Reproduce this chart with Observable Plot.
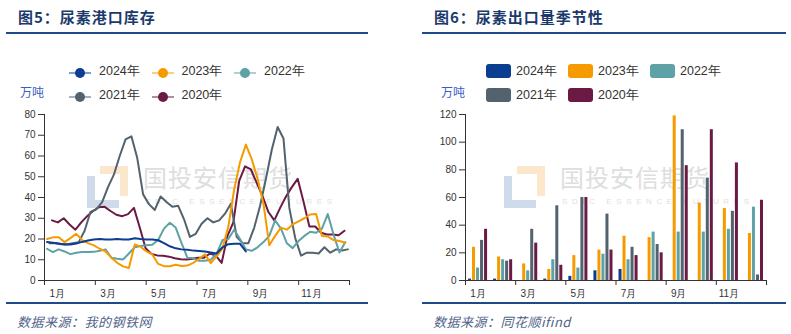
<!DOCTYPE html>
<html><head><meta charset="utf-8">
<script src="https://cdn.jsdelivr.net/npm/d3@7"></script>
<script src="https://cdn.jsdelivr.net/npm/@observablehq/plot@0.6"></script>
<style>
body{margin:0;width:791px;height:334px;position:relative;background:#fff;overflow:hidden;font-family:"Liberation Sans",Arial,sans-serif;}
.abs{position:absolute;}
.title{font-family:"Noto Sans CJK SC";font-weight:700;font-size:15px;color:#1b3a6b;letter-spacing:1px;top:6px;line-height:22px;white-space:nowrap;}
.rule{height:2px;background:#1f4a87;}
.src{font-family:"Noto Sans CJK SC";font-style:italic;font-size:13px;color:#52648a;top:312px;line-height:20px;white-space:nowrap;letter-spacing:0.5px;}
.unit{font-family:"Noto Sans CJK SC";font-size:12px;color:#3a5cc4;line-height:16px;}
.leg{font-size:12.5px;color:#333;line-height:16px;white-space:nowrap;}
.wm{font-family:"Noto Sans CJK SC";color:#dedede;font-size:24px;letter-spacing:1px;line-height:28px;white-space:nowrap;}
.wm2{color:#e0e0e0;font-size:8px;letter-spacing:4.6px;white-space:nowrap;line-height:10px;}
.plot{position:absolute;}
</style>
</head><body>
<script>
// ---------- data ----------
const years = ["2024年","2023年","2022年","2021年","2020年"];
const colors = ["#0b3d91","#f59b00","#5ea1a7","#52626e","#6a1a43"];
const monthLabels = ["1月","3月","5月","7月","9月","11月"];
const monthLabelIndex = [0,2,4,6,8,10];
const monthEdges = [0,2,4,6,8,10,12];
const yTicksLeft = [0,10,20,30,40,50,60,70,80];
const yTicksRight = [0,20,40,60,80,100,120];

// port inventory (weekly, 万吨); first observation day-of-year per year
const startDay = [3,3,3,6,9];
const inv2024 = [18.5,18.2,17.8,17.3,17.3,17.8,18.6,19.3,19.8,20,19.8,19.8,20,19.8,19.8,20.4,20,19.8,19.8,19.4,18,16.5,15.5,15,14.8,14.4,14.2,14,13.5,13,16,17.5,17.7,17.7,14];
const inv2023 = [20,20.8,20.8,18.5,20.4,22.5,19.5,18,16.9,15.3,14,11,8.5,6.8,6,17.4,16.3,14,12.6,8,6.9,6.9,7.6,7,7.2,8.5,10.5,12.6,8.4,11.6,15.5,26,44,57,65.5,58.5,49,37,17,21.5,25.5,24.5,27,28.5,30,31.8,32,21.5,21.2,19.5,19,18.2];
const inv2022 = [15.3,13.7,15,14,12.7,13.4,13.7,13.7,13.8,14.3,15,11,10.5,10.1,13,16,16.6,17,17.2,19.5,25,27.8,25.5,18,11,10.8,9.5,9.5,10,13,19.5,20,24.5,20,15,14.3,16,18.5,21.5,29,25,18,15.6,19,21.5,23.5,23,25,32,22,13.5,18.5];
const inv2021 = [18,18,17.5,17.5,18,18.5,24,33,34.3,37.8,45,51,60,68,69.5,59,41.5,36.8,34,40.5,37.8,35.5,36,29.5,21,22.5,27.4,30,28,29,32.2,37,21,18,18,25.5,36,49,63,74,68.4,35,20.5,12,13.4,13.4,13,16,13.4,15,14.5,15];
const inv2020 = [29,28,30,27,24.5,28,31,33.5,35.3,35.5,33.5,31.7,31,32,35,25.5,15.5,12.8,12.1,11.9,11.5,10.7,10.2,10.1,10.5,11,11,13,12,8.5,21.5,28,48,55,53.5,47,40.5,33,29,35,40.5,45,49,38,26,26,23,22.2,22.2,21.8,24];
const inventory = [inv2024, inv2023, inv2022, inv2021, inv2020];

// monthly urea exports (万吨)
const exp2024 = [1,1,0,1,3,7,8,null,null,null,null,null];
const exp2023 = [24,17,12,8,18,22,32,31,119,56,52,34];
const exp2022 = [9,15,7,15,9,19,15,35,35,35,37,53];
const exp2021 = [29,14,37,54,60,48,24,26,109,74,50,4];
const exp2020 = [37,15,27,11,60,22,18,20,83,109,85,58];
const exports_ = [exp2024, exp2023, exp2022, exp2021, exp2020];

// ---------- static layout ----------
function el(cls, css, html){const d=document.createElement("div");d.className="abs "+cls;Object.assign(d.style,css);if(html!=null)d.innerHTML=html;document.body.appendChild(d);return d;}

// watermarks (behind)
function watermark(x){
  el("", {left:(x)+"px",top:"176px",width:"24px",height:"24px",borderLeft:"8px solid #cfdaea",borderBottom:"8px solid #cfdaea"});
  el("", {left:(x+13)+"px",top:"166px",width:"20px",height:"22px",borderTop:"8px solid #fde7cc",borderRight:"8px solid #fde7cc"});
  el("wm", {left:(x+56)+"px",top:"163px"}, "国投安信期货");
  el("wm2", {left:(x+58)+"px",top:"197px"}, "SDIC ESSENCE FUTURES");
}
watermark(87);
watermark(504);

el("title",{left:"18px"},"图5：尿素港口库存");
el("title",{left:"434px"},"图6：尿素出口量季节性");
el("rule",{left:"6px",top:"32px",width:"362px"});
el("rule",{left:"422px",top:"32px",width:"364px"});
el("rule",{left:"6px",top:"302px",width:"362px"});
el("rule",{left:"422px",top:"302px",width:"364px"});
el("src",{left:"17px"},"数据来源：我的钢铁网");
el("src",{left:"433px"},"数据来源：同花顺ifind");
el("unit",{left:"20px",top:"84px"},"万吨");
el("unit",{left:"441px",top:"84px"},"万吨");

// legends
years.forEach((y,k)=>{
  const r = k<3?0:1, c = k<3?k:k-3;
  const cy = r===0?71:95;
  // line legend
  const lx = 69 + c*82.5;
  el("", {left:lx+"px",top:(cy-6)+"px",width:"22px",height:"12px"},
    `<svg width="22" height="12"><line x1="0" y1="6" x2="22" y2="6" stroke="${colors[k]}" stroke-opacity="0.5" stroke-width="2"/><circle cx="11" cy="6" r="5" fill="${colors[k]}"/></svg>`);
  el("leg", {left:(lx+30)+"px",top:(cy-8)+"px"}, y);
  // bar legend
  const bx = 486 + c*82;
  el("", {left:bx+"px",top:(cy-7)+"px",width:"25px",height:"14px",background:colors[k],borderRadius:"3px"});
  el("leg", {left:(bx+30)+"px",top:(cy-8)+"px"}, y);
});

// ---------- charts ----------
const color = {domain: years, range: colors};
const baseStyle = {background:"transparent", fontSize:"10px", fontFamily:"Liberation Sans, Arial, sans-serif", color:"#333", overflow:"visible"};

const lineData = [];
inventory.forEach((vals,k)=>vals.forEach((v,i)=>lineData.push({year:years[k], x:(startDay[k]+7*i)*12/365, v})));
const drawOrder = [4,3,2,1,0];
const lineOrdered = drawOrder.flatMap(k=>lineData.filter(d=>d.year===years[k]));

const labelPos = monthLabelIndex.map(m=>m+0.5);
const fmtLabel = d => monthLabels[monthLabelIndex.indexOf(Math.round(d-0.5))];

const left = Plot.plot({
  width:370, height:200, marginLeft:44, marginRight:21, marginTop:14, marginBottom:20,
  style: baseStyle,
  x:{domain:[0,12], label:null},
  y:{domain:[0,80], label:null},
  color,
  marks:[
    Plot.axisY(yTicksLeft,{tickSize:6, tickPadding:3, label:null}),
    Plot.axisX(monthEdges,{tickSize:5, tickFormat:()=>"", label:null}),
    Plot.axisX(labelPos,{tickSize:0, tickPadding:9, tickFormat:fmtLabel, label:null}),
    Plot.ruleX([0],{stroke:"#333"}),
    Plot.ruleY([0],{stroke:"#333"}),
    Plot.line(lineOrdered,{x:"x", y:"v", z:"year", stroke:"year", strokeWidth:2})
  ]
});
left.classList.add("plot");
Object.assign(left.style,{left:"0px", top:"100px"});
document.body.appendChild(left);

const barData = [];
exports_.forEach((vals,k)=>vals.forEach((v,m)=>{ if(v!=null) barData.push({year:years[k], x1:m+0.12+0.16*k, x2:m+0.12+0.16*k+0.12, v}); }));

const right = Plot.plot({
  width:391, height:200, marginLeft:65, marginRight:25, marginTop:14, marginBottom:20,
  style: baseStyle,
  x:{domain:[0,12], label:null},
  y:{domain:[0,120], label:null},
  color,
  marks:[
    Plot.axisY(yTicksRight,{tickSize:6, tickPadding:3, label:null}),
    Plot.axisX(monthEdges,{tickSize:5, tickFormat:()=>"", label:null}),
    Plot.axisX(labelPos,{tickSize:0, tickPadding:9, tickFormat:fmtLabel, label:null}),
    Plot.rectY(barData,{x1:"x1", x2:"x2", y:"v", fill:"year"}),
    Plot.ruleX([0],{stroke:"#333"}),
    Plot.ruleY([0],{stroke:"#333"})
  ]
});
right.classList.add("plot");
Object.assign(right.style,{left:"400px", top:"100px"});
document.body.appendChild(right);
</script>
</body></html>
